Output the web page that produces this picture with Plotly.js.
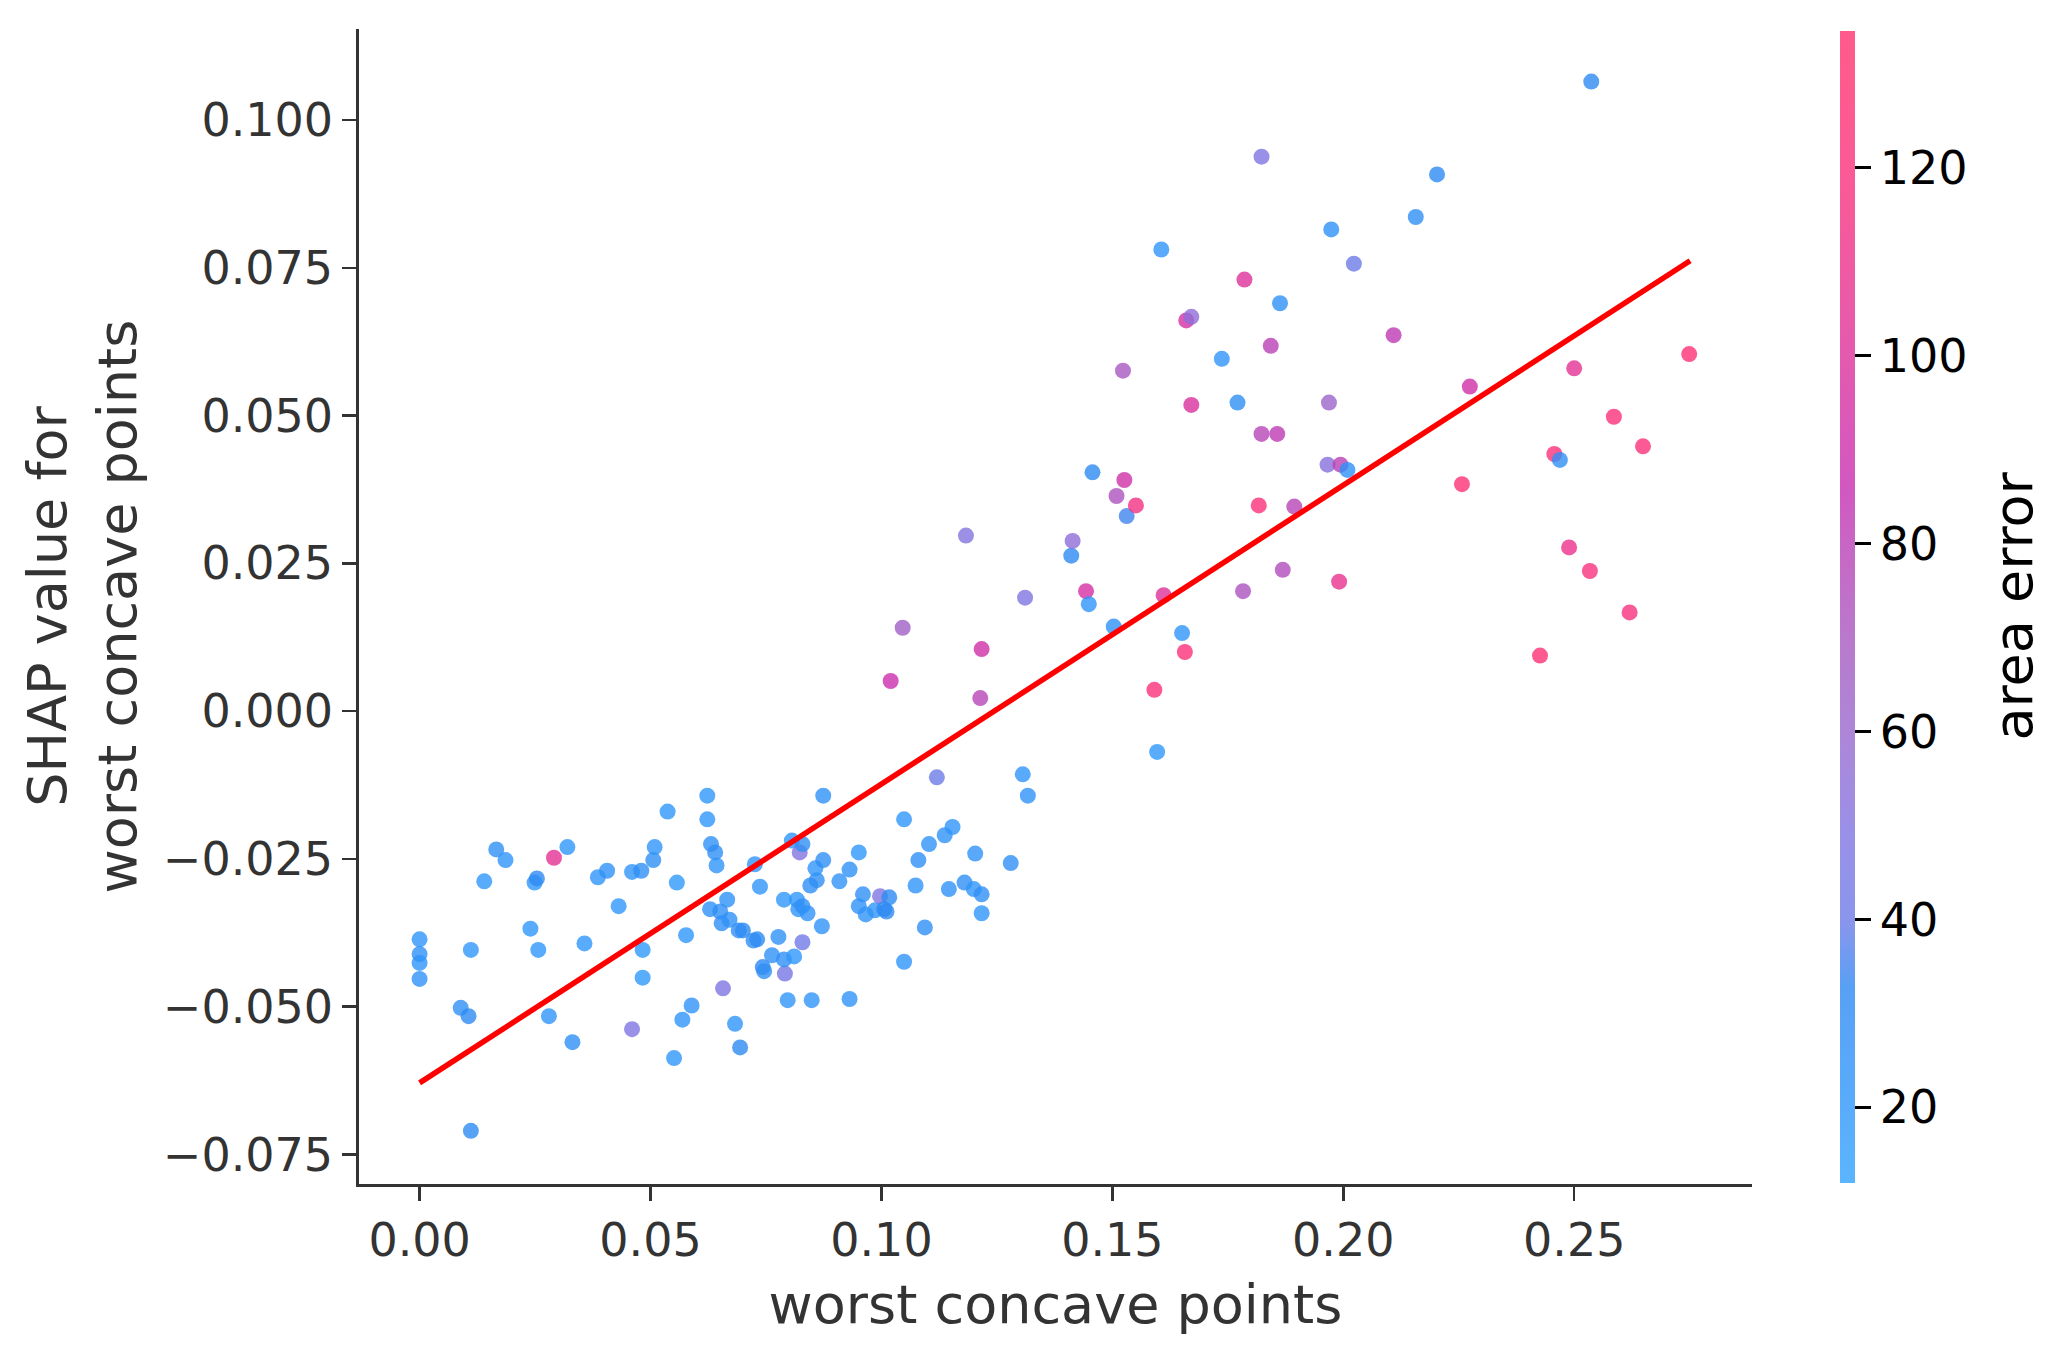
<!DOCTYPE html>
<html>
<head>
<meta charset="utf-8">
<script src="https://cdn.plot.ly/plotly-3.0.1.min.js"></script>
<style>html,body{margin:0;padding:0;background:#fff;}#chart{width:2069px;height:1357px;}</style>
</head>
<body>
<div id="chart"></div>
<script>
// worst concave points (feature value)
const xVals = [
0.0000,0.0000,0.0000,0.0000,0.0089,0.0106,0.0111,0.0111,0.0140,0.0166,
0.0186,0.0240,0.0249,0.0254,0.0257,0.0280,0.0291,0.0320,0.0331,0.0357,
0.0386,0.0406,0.0431,0.0460,0.0460,0.0480,0.0483,0.0483,0.0506,0.0509,
0.0537,0.0557,0.0569,0.0551,0.0577,0.0589,0.0623,0.0623,0.0629,0.0631,
0.0640,0.0643,0.0651,0.0654,0.0657,0.0666,0.0671,0.0683,0.0691,0.0694,
0.0700,0.0723,0.0726,0.0731,0.0737,0.0743,0.0746,0.0763,0.0777,0.0789,
0.0791,0.0789,0.0797,0.0806,0.0811,0.0817,0.0820,0.0823,0.0829,0.0829,
0.0829,0.0840,0.0846,0.0849,0.0860,0.0857,0.0871,0.0874,0.0874,0.0909,
0.0931,0.0931,0.0951,0.0951,0.0960,0.0966,0.0986,0.0997,0.1006,0.1011,
0.1017,0.1049,0.1049,0.1074,0.1080,0.1094,0.1103,0.1120,0.1137,0.1146,
0.1154,0.1180,0.1203,0.1200,0.1217,0.1217,0.1280,0.1306,0.1317,
0.1020,0.1046,0.1183,0.1217,0.1214,0.1311,0.1411,0.1414,0.1443,0.1449,
0.1457,0.1503,0.1509,0.1523,0.1526,0.1531,0.1551,0.1591,0.1597,0.1606,
0.1611,0.1651,0.1657,0.1660,0.1671,0.1671,0.1737,0.1771,0.1783,0.1786,
0.1817,0.1823,0.1823,0.1843,0.1857,0.1863,0.1869,0.1894,0.1969,0.1966,
0.1974,0.1991,0.1994,0.2009,0.2023,0.2109,0.2157,0.2203,0.2257,0.2274,
0.2426,0.2457,0.2469,0.2489,0.2500,0.2534,0.2537,0.2586,0.2620,0.2649,
0.2749
];
// SHAP value for worst concave points
const shapVals = [
-0.0386,-0.0411,-0.0426,-0.0453,-0.0502,-0.0516,-0.0404,-0.0710,-0.0288,-0.0234,
-0.0252,-0.0368,-0.0290,-0.0283,-0.0404,-0.0516,-0.0248,-0.0230,-0.0560,-0.0393,
-0.0281,-0.0270,-0.0330,-0.0272,-0.0538,-0.0270,-0.0404,-0.0451,-0.0252,-0.0230,
-0.0170,-0.0290,-0.0522,-0.0587,-0.0379,-0.0498,-0.0143,-0.0183,-0.0335,-0.0225,
-0.0239,-0.0261,-0.0339,-0.0359,-0.0469,-0.0319,-0.0353,-0.0529,-0.0371,-0.0569,
-0.0371,-0.0388,-0.0259,-0.0386,-0.0297,-0.0433,-0.0440,-0.0413,-0.0382,-0.0319,
-0.0444,-0.0420,-0.0489,-0.0219,-0.0415,-0.0319,-0.0335,-0.0239,-0.0225,-0.0391,
-0.0330,-0.0342,-0.0295,-0.0489,-0.0286,-0.0266,-0.0364,-0.0252,-0.0143,-0.0288,
-0.0268,-0.0487,-0.0239,-0.0330,-0.0310,-0.0344,-0.0337,-0.0313,-0.0335,-0.0339,
-0.0315,-0.0183,-0.0424,-0.0295,-0.0252,-0.0366,-0.0225,-0.0112,-0.0210,-0.0301,
-0.0196,-0.0290,-0.0241,-0.0301,-0.0310,-0.0342,-0.0257,-0.0107,-0.0143,
0.0051,0.0141,0.0297,0.0105,0.0022,0.0192,0.0263,0.0288,0.0203,0.0181,
0.0404,0.0143,0.0364,0.0576,0.0391,0.0330,0.0348,0.0036,-0.0069,0.0781,
0.0196,0.0132,0.0100,0.0661,0.0667,0.0518,0.0596,0.0522,0.0203,0.0730,
0.0348,0.0469,0.0938,0.0618,0.0469,0.0690,0.0239,0.0346,0.0522,0.0417,
0.0815,0.0219,0.0417,0.0408,0.0757,0.0636,0.0836,0.0908,0.0384,0.0549,
0.0094,0.0435,0.0425,0.0277,0.0580,0.0237,0.1065,0.0498,0.0167,0.0448,
0.0604
];
// area error (colour)
const areaErr = [
22,25,22,24,28,30,20,30,20,28,
22,20,20,32,20,22,105,20,27,20,
22,25,20,22,48,27,18,18,28,22,
20,18,22,20,20,24,20,20,25,25,
28,22,27,27,48,25,25,22,28,30,
30,28,22,30,22,30,28,25,25,20,
45,26,22,22,20,20,22,50,28,42,
26,24,26,22,27,22,24,26,25,24,
25,24,20,25,26,23,22,48,30,32,
30,20,22,22,26,27,24,40,24,25,
22,26,24,22,26,22,26,22,24,
88,65,50,92,78,48,30,55,95,22,
30,25,72,70,92,35,115,122,20,22,
100,22,122,95,55,98,22,28,72,100,
120,78,48,80,82,25,75,78,62,52,
25,108,80,25,40,82,28,30,125,92,
125,122,28,110,105,118,30,122,118,120,
125
];
// fitted trend line
const fitX = [0.0000, 0.2751];
const fitY = [-0.0629, 0.0762];

const cMin = 12, cMax = 134.6;
const markerScale = [
[0,'rgb(50,163,254)'],[0.065,'rgb(48,151,250)'],[0.17,'rgb(46,136,241)'],
[0.228,'rgb(109,123,231)'],[0.31,'rgb(130,115,224)'],[0.39,'rgb(153,104,206)'],
[0.47,'rgb(166,89,191)'],[0.555,'rgb(186,64,181)'],[0.60,'rgb(198,46,178)'],
[0.72,'rgb(221,49,154)'],[0.88,'rgb(250,49,123)'],[1,'rgb(255,50,110)']
];
const barScale = [
[0,'rgb(91,181,254)'],[0.065,'rgb(89,172,251)'],[0.17,'rgb(88,160,244)'],
[0.228,'rgb(138,149,236)'],[0.31,'rgb(155,143,230)'],[0.39,'rgb(173,134,216)'],
[0.47,'rgb(184,122,204)'],[0.555,'rgb(200,102,196)'],[0.60,'rgb(209,88,193)'],
[0.72,'rgb(228,90,174)'],[0.88,'rgb(251,90,149)'],[1,'rgb(255,91,139)']
];

const FONT = 'DejaVu Sans, Liberation Sans, sans-serif';

const traces = [
{
  type:'scatter', mode:'markers', x:xVals, y:shapVals,
  marker:{size:16, color:areaErr, colorscale:markerScale, cmin:cMin, cmax:cMax,
          opacity:0.8, line:{width:0}, showscale:false},
  hoverinfo:'skip', showlegend:false
},
{
  type:'scatter', mode:'markers', x:xVals, y:shapVals,
  marker:{size:16, color:areaErr, colorscale:barScale, cmin:cMin, cmax:cMax,
          opacity:0, line:{width:0}, showscale:true,
          colorbar:{
            x:1.0632, xanchor:'left', xpad:0, ypad:0,
            y:0.5, yanchor:'middle', len:1152, lenmode:'pixels',
            thickness:15, outlinewidth:0,
            tick0:20, dtick:20, ticks:'outside', ticklen:16, tickwidth:2.5, tickcolor:'#000',
            tickfont:{family:FONT, size:46, color:'#000'},
            title:{text:''}
          }},
  hoverinfo:'skip', showlegend:false
},
{
  type:'scatter', mode:'lines', x:fitX, y:fitY,
  line:{color:'#ff0000', width:5.5}, hoverinfo:'skip', showlegend:false
}
];

const layout = {
  width:2069, height:1357,
  margin:{l:359, r:317, t:29, b:173},
  paper_bgcolor:'#fff', plot_bgcolor:'#fff',
  font:{family:FONT, color:'#333'},
  xaxis:{
    range:[-0.01312, 0.2885], tick0:0, dtick:0.05, tickformat:'.2f',
    showgrid:false, zeroline:false, showline:true, linecolor:'#333', linewidth:2.7,
    ticks:'outside', ticklen:14, tickwidth:2.5, tickcolor:'#333',
    tickfont:{family:FONT, size:46, color:'#333'},
    title:{text:'worst concave points', font:{family:FONT, size:54, color:'#333'}, standoff:20},
    automargin:true
  },
  yaxis:{
    range:[-0.0800, 0.1154], tick0:0, dtick:0.025, tickformat:'.3f',
    showgrid:false, zeroline:false, showline:true, linecolor:'#333', linewidth:2.7,
    ticks:'outside', ticklen:14, tickwidth:2.5, tickcolor:'#333',
    tickfont:{family:FONT, size:46, color:'#333'},
    title:{text:'SHAP value for<br>worst concave points', font:{family:FONT, size:54, color:'#333'}, standoff:9},
    automargin:true
  },
  annotations:[{
    text:'area error', xref:'paper', yref:'paper', x:1.1874, y:0.5,
    xanchor:'center', yanchor:'middle', textangle:-90, showarrow:false,
    font:{family:FONT, size:54, color:'#000'}
  }]
};

Plotly.newPlot('chart', traces, layout, {displayModeBar:false, staticPlot:true});
</script>
</body>
</html>
